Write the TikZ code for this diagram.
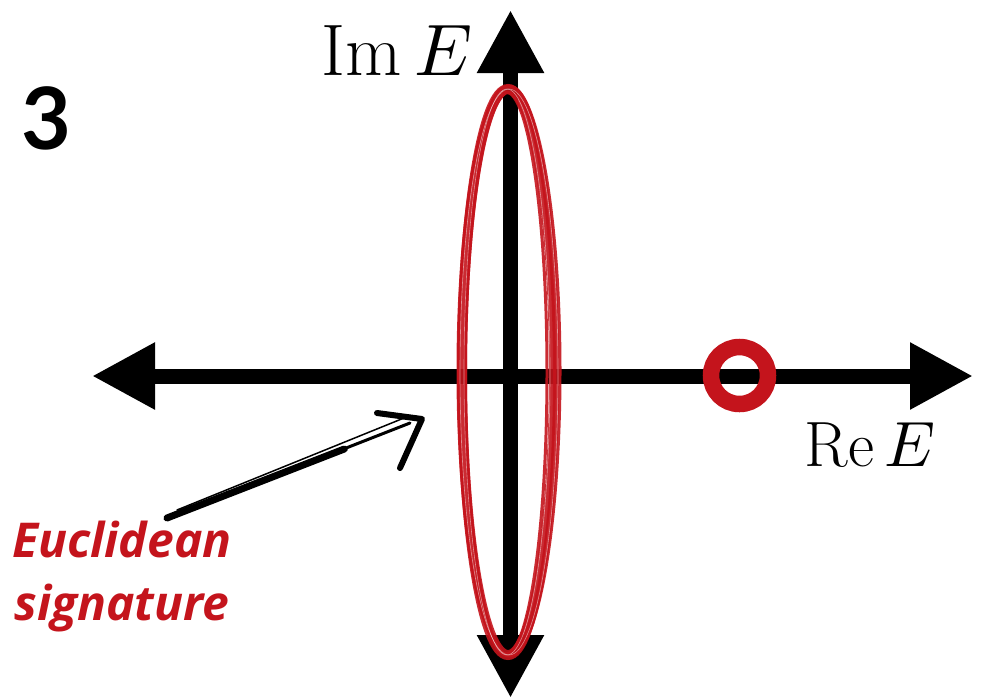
\documentclass[tikz,border=0pt]{standalone}
\usepackage{fontspec}
\usepackage{unicode-math}
\usepackage{tikz}
\usetikzlibrary{arrows.meta,calc}
\newfontfamily\notefont{Open Sans}
\newfontfamily\numfont{Lato}
\definecolor{sketchred}{RGB}{196,20,28}

\begin{document}
\begin{tikzpicture}[x=1pt,y=-1pt,
  axis/.style={line width=15pt,<->,>={Triangle[length=63pt,width=63pt]}},
  redpen/.style={sketchred,line cap=round},
  note/.style={anchor=base,text=sketchred,font=\notefont\bfseries\itshape\fontsize{48}{58}\selectfont},
  pen/.style={black,line cap=round,line join=round}]
\useasboundingbox (0,0) rectangle (985,697);
% axes
\coordinate (west) at (92,376);
\coordinate (east) at (973,376);
\coordinate (north) at (510.5,10);
\coordinate (south) at (510.5,698);
\draw[axis] (west) -- (east);
\draw[axis] (south) -- (north);
\node[anchor=base west] (imlab) at (318,75) {\fontsize{73}{73}\selectfont$\mathrm{Im}\,E$};
\node[anchor=base west] (relab) at (801,466) {\fontsize{64}{64}\selectfont$\mathrm{Re}\,E$};
% pole on the real axis
\coordinate (pole) at (739.5,375.5);
\draw[sketchred,line width=16.5pt] (pole) circle [radius=28.5];
% sketched contour
\coordinate (ctr) at (508,372);
\foreach \dx/\dy/\rx/\ry/\w in {0/0/46/283/10, -2/1/41/281/3, 1/-1/51/285/3, 2/2/44/282/2, -1/-2/48/284/2}
  \draw[redpen,line width=\w pt,opacity=0.9] ($(ctr)+(\dx,\dy)$) ellipse [x radius=\rx, y radius=\ry];
\foreach \dx/\rx in {-1/43, 1/49}
  \draw[white,line width=0.6pt,opacity=0.5] ($(ctr)+(\dx,0)$) ellipse [x radius=\rx, y radius=283];
% label and hand-drawn pointer
\node[note] (euclid) at (122,557) {Euclidean};
\node[note] (sig) at (122,620) {signature};
\coordinate (tail) at (163,519);
\coordinate (tip) at (422,419);
\draw[pen,line width=7pt] ($(tail)+(4,-1)$) -- ($(tail)!0.7!(tip)$);
\draw[pen,line width=3pt] ($(tail)!0.5!(tip)$) -- ($(tip)+(-12,4)$);
\draw[pen,line width=1.5pt] ($(tail)+(14,-9)$) -- ($(tip)+(-18,-1)$);
\draw[pen,line width=6pt] ($(tip)+(-45,-6)$) -- (tip) -- ($(tip)+(-22,49)$);
% panel number
\node[anchor=base west,font=\numfont\bfseries\fontsize{86}{86}\selectfont] (num) at (18,149) {3};
\end{tikzpicture}
\end{document}
